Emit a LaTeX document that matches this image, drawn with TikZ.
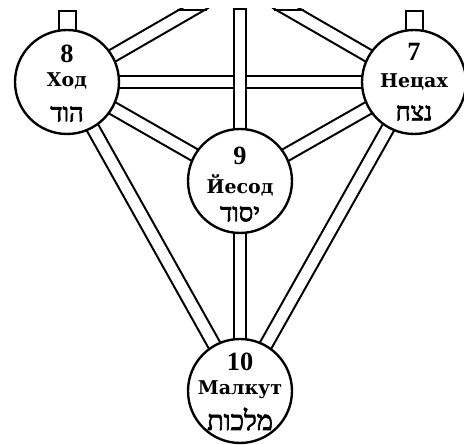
\documentclass[tikz,border=0pt]{standalone}
\usepackage{fontspec}
\setmainfont{Liberation Serif}
\newfontfamily\cyrfont{DejaVu Serif}
\newfontfamily\hebfont[Script=Hebrew,FakeBold=2.5]{Liberation Serif}
\TeXXeTstate=1
\usetikzlibrary{backgrounds,calc}
\begin{document}
\begin{tikzpicture}[x=0.02cm,y=-0.02cm,
  chan/.style={line width=1.2pt, double=white, double distance=6.1pt},
  capline/.style={line width=1.2pt},
  sefira/.style={circle, draw, line width=1.35pt, fill=white, minimum size=2.08cm, inner sep=0pt},
  topbox/.style={draw, fill=white, line width=1.2pt, minimum width=0.34cm, minimum height=0.56cm, inner sep=0pt},
  num/.style={font=\bfseries\fontsize{15}{15}\selectfont, inner sep=0pt},
  cyr/.style={font=\cyrfont\bfseries\fontsize{10.8}{10.8}\selectfont, inner sep=0pt},
  heb/.style={font=\hebfont\fontsize{14.5}{14.5}\selectfont, inner sep=0pt}]
\useasboundingbox (0,0) rectangle (464,445);

% sefirot
\node[sefira] (n8) at (67,82) {};
\node[sefira] (n7) at (414,82) {};
\node[sefira] (n9) at (240,181) {};
\node[sefira] (n10) at (240,391) {};

% labels
\node[num] (l8n) at ($(n8)+(0,-28)$) {8};
\node[cyr] (l8c) at ($(n8)+(0,-1)$) {Ход};
\node[heb] (l8h) at ($(n8)+(0,32)$) {\beginR הוד\endR};

\node[num] (l7n) at ($(n7)+(0,-30)$) {7};
\node[cyr] (l7c) at ($(n7)+(0,0)$) {Нецах};
\node[heb] (l7h) at ($(n7)+(0,31)$) {\beginR נצח\endR};

\node[num] (l9n) at ($(n9)+(0,-25)$) {9};
\node[cyr] (l9c) at ($(n9)+(0,4)$) {Йесод};
\node[heb] (l9h) at ($(n9)+(0,33)$) {\beginR יסוד\endR};

\node[num] (l10n) at ($(n10)+(0,-29)$) {10};
\node[cyr] (l10c) at ($(n10)+(0,-1)$) {Малкут};
\node[heb,font=\hebfont\fontsize{15.5}{15.5}\selectfont] (l10h) at ($(n10)+(0,28)$) {\beginR מלכות\endR};

\begin{pgfonlayer}{background}
  \node[topbox] (b8) at (67.5,25) {};
  \node[topbox] (b7) at (414.5,25) {};
  \coordinate (t8) at (205.6,2);
  \coordinate (t7) at (275.4,2);
  \begin{scope}
    \clip (0,9) rectangle (464,445);
    \draw[chan] (n8.center) -- (t8);
    \draw[chan] (n7.center) -- (t7);
  \end{scope}
  \coordinate (t8a) at (176.7,10);
  \coordinate (t8b) at (206.7,10);
  \coordinate (t7a) at (274.3,10);
  \coordinate (t7b) at (304.3,10);
  \draw[capline] (t8a) -- (t8b);
  \draw[capline] (t7a) -- (t7b);
  \draw[chan] (n8.center) -- (n7.center);
  \coordinate (tv) at (240,15.5);
  \draw[chan, line cap=rect] (tv) -- (n9.center);
  \draw[chan] (n8.center) -- (n9.center);
  \draw[chan] (n7.center) -- (n9.center);
  \draw[chan] (n8.center) -- (n10.center);
  \draw[chan] (n7.center) -- (n10.center);
  \draw[chan] (n9.center) -- (n10.center);
\end{pgfonlayer}
\end{tikzpicture}
\end{document}
